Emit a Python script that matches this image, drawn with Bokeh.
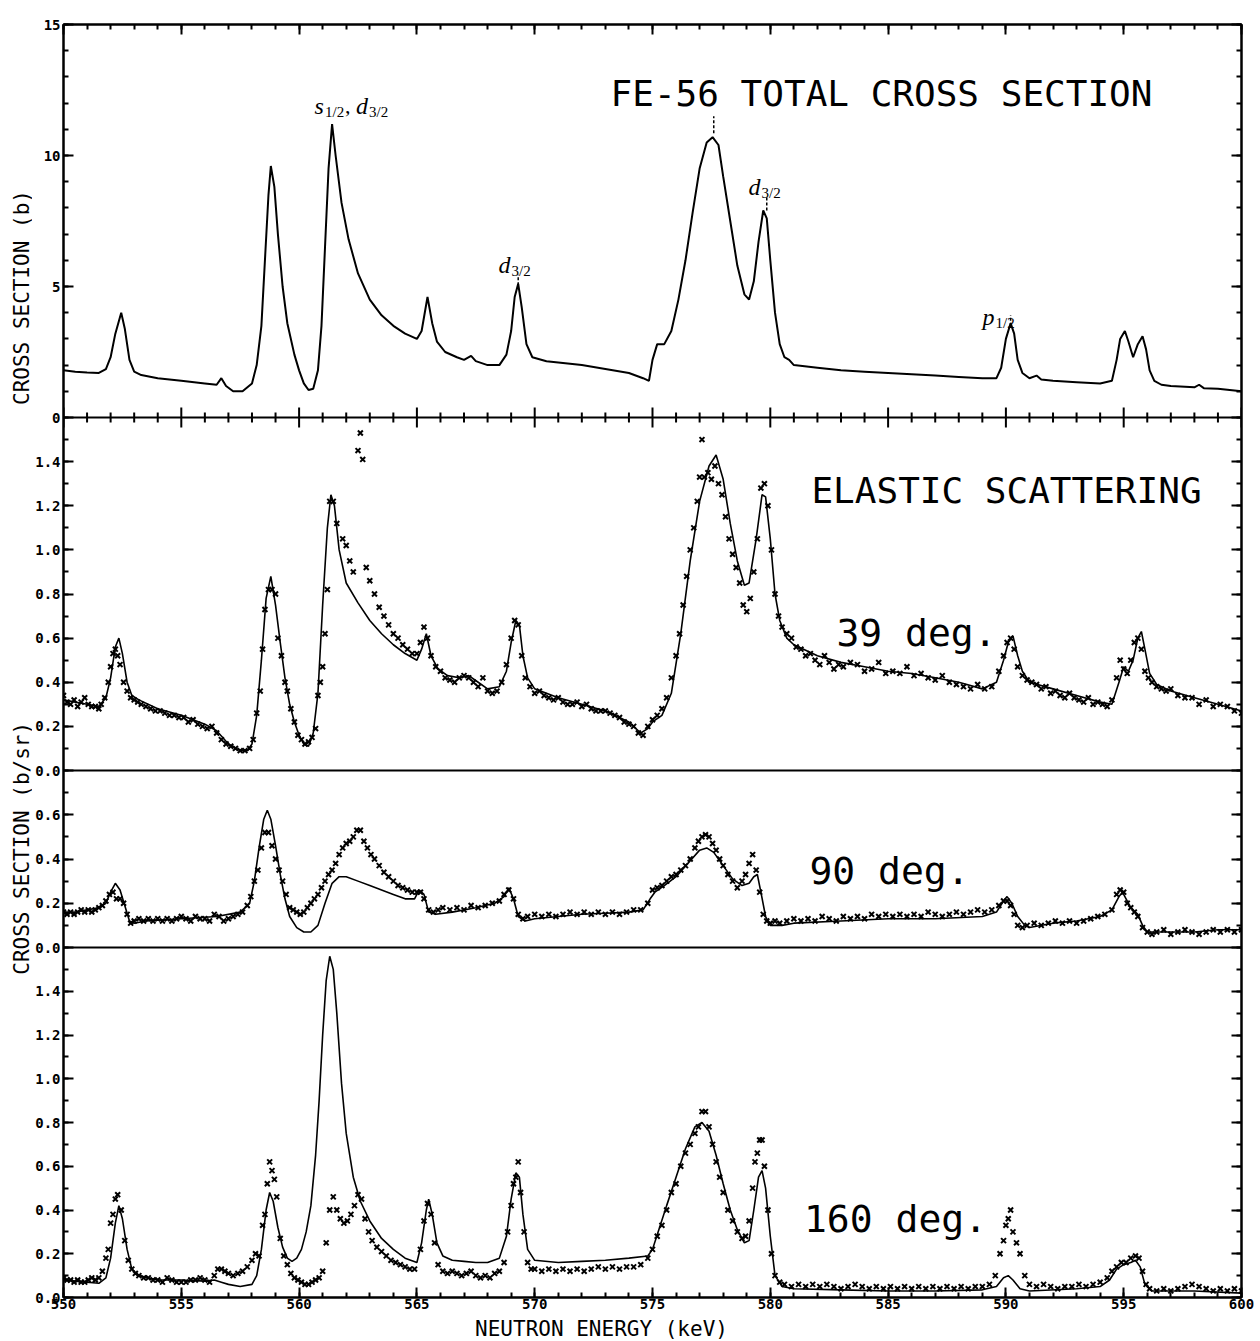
import math
from bokeh.plotting import figure
from bokeh.layouts import column, row
from bokeh.models import (Range1d, LinearAxis, FixedTicker, Label, Span,
                          CustomJSTickFormatter)
from bokeh.core.properties import value
from bokeh.embed import file_html
from bokeh.resources import INLINE

# ---------------- DATA ----------------
# Panel 1: Fe-56 total cross section (b)
tot_E = [550.0, 550.5, 551.0, 551.5, 551.8, 552.0, 552.2, 552.45, 552.6, 552.8, 553.0, 553.3, 554.0, 555.0,
         556.0, 556.5, 556.7, 556.9, 557.2, 557.6, 558.0, 558.2, 558.4, 558.55, 558.7, 558.8, 558.95, 559.1,
         559.3, 559.5, 559.8, 560.0, 560.2, 560.4, 560.6, 560.8, 560.95, 561.1, 561.25, 561.4, 561.55, 561.8,
         562.1, 562.5, 563.0, 563.5, 564.0, 564.5, 565.0, 565.2, 565.45, 565.65, 565.85, 566.2, 566.7, 567.0,
         567.3, 567.5, 568.0, 568.5, 568.8, 569.0, 569.15, 569.3, 569.45, 569.65, 569.9, 570.5, 571.0, 572.0,
         573.0, 574.0, 574.6, 574.85, 575.0, 575.2, 575.5, 575.8, 576.1, 576.4, 576.7, 577.0, 577.3, 577.55,
         577.8, 578.0, 578.3, 578.6, 578.9, 579.1, 579.3, 579.5, 579.7, 579.85, 580.0, 580.2, 580.4, 580.6,
         580.8, 581.0, 582.0, 583.0, 584.0, 585.0, 586.0, 587.0, 588.0, 589.0, 589.6, 589.8, 590.0, 590.2,
         590.35, 590.5, 590.7, 591.0, 591.3, 591.5, 592.0, 593.0, 594.0, 594.5, 594.7, 594.85, 595.05, 595.2,
         595.4, 595.6, 595.8, 595.95, 596.1, 596.3, 596.6, 597.0, 598.0, 598.2, 598.4, 599.0, 600.0]
tot_sig = [1.80, 1.75, 1.72, 1.70, 1.85, 2.3, 3.2, 4.0, 3.4, 2.2, 1.75, 1.62, 1.50, 1.40,
           1.30, 1.25, 1.50, 1.20, 1.00, 1.00, 1.30, 2.0, 3.5, 6.0, 8.5, 9.6, 8.8, 7.0,
           5.0, 3.6, 2.4, 1.8, 1.3, 1.05, 1.1, 1.8, 3.5, 6.5, 9.5, 11.2, 10.0, 8.2,
           6.8, 5.5, 4.5, 3.9, 3.5, 3.2, 3.0, 3.3, 4.6, 3.6, 2.9, 2.5, 2.3, 2.2,
           2.35, 2.15, 2.0, 2.0, 2.4, 3.3, 4.6, 5.1, 4.2, 2.8, 2.3, 2.15, 2.1, 2.0,
           1.85, 1.7, 1.5, 1.4, 2.2, 2.8, 2.8, 3.3, 4.5, 6.0, 7.8, 9.5, 10.5, 10.7,
           10.4, 9.2, 7.5, 5.8, 4.7, 4.5, 5.2, 6.7, 7.9, 7.6, 6.0, 4.0, 2.8, 2.3,
           2.2, 2.0, 1.9, 1.8, 1.75, 1.7, 1.65, 1.6, 1.55, 1.5, 1.5, 1.9, 3.0, 3.6,
           3.2, 2.2, 1.7, 1.5, 1.6, 1.45, 1.4, 1.35, 1.3, 1.4, 2.2, 3.0, 3.3, 2.9,
           2.3, 2.8, 3.1, 2.6, 1.8, 1.4, 1.25, 1.2, 1.15, 1.25, 1.12, 1.1, 1.0]

# Panel 2: elastic 39 deg (b/sr) - fit curve
fit39_E = [550.0, 550.5, 551.0, 551.5, 551.8, 552.0, 552.2, 552.35, 552.5, 552.7, 552.9, 553.2, 554.0, 555.0,
           556.0, 556.5, 557.0, 557.5, 557.8, 558.0, 558.2, 558.4, 558.6, 558.8, 559.0, 559.2, 559.4, 559.6,
           559.8, 560.0, 560.2, 560.4, 560.6, 560.8, 561.0, 561.2, 561.35, 561.5, 561.7, 562.0, 562.5, 563.0,
           563.5, 564.0, 564.5, 565.0, 565.2, 565.4, 565.6, 565.9, 566.3, 566.8, 567.2, 567.6, 568.0, 568.5,
           568.8, 569.0, 569.2, 569.35, 569.5, 569.7, 570.0, 571.0, 572.0, 573.0, 574.0, 574.5, 574.8, 575.0,
           575.4, 575.8, 576.2, 576.6, 577.0, 577.4, 577.7, 578.0, 578.3, 578.6, 578.9, 579.1, 579.4, 579.65,
           579.8, 580.0, 580.2, 580.4, 580.7, 581.0, 582.0, 583.0, 584.0, 585.0, 586.0, 587.0, 588.0, 589.0,
           589.6, 589.9, 590.1, 590.3, 590.5, 590.7, 591.0, 592.0, 593.0, 594.0, 594.5, 594.8, 595.0, 595.2,
           595.4, 595.6, 595.75, 595.9, 596.1, 596.4, 597.0, 598.0, 599.0, 600.0]
fit39 = [0.32, 0.31, 0.30, 0.29, 0.33, 0.42, 0.56, 0.60, 0.53, 0.40, 0.34, 0.32, 0.28, 0.25,
         0.21, 0.18, 0.12, 0.09, 0.09, 0.12, 0.25, 0.50, 0.78, 0.88, 0.75, 0.58, 0.42, 0.30,
         0.22, 0.16, 0.12, 0.11, 0.17, 0.35, 0.75, 1.10, 1.25, 1.20, 1.00, 0.85, 0.76, 0.68,
         0.62, 0.57, 0.53, 0.50, 0.55, 0.62, 0.52, 0.46, 0.43, 0.42, 0.43, 0.40, 0.37, 0.38,
         0.45, 0.58, 0.68, 0.66, 0.52, 0.42, 0.37, 0.33, 0.30, 0.27, 0.22, 0.17, 0.19, 0.22,
         0.25, 0.35, 0.62, 0.95, 1.22, 1.38, 1.43, 1.32, 1.12, 0.95, 0.84, 0.85, 1.05, 1.25,
         1.24, 1.05, 0.80, 0.68, 0.60, 0.57, 0.52, 0.49, 0.47, 0.45, 0.44, 0.42, 0.40, 0.37,
         0.40, 0.50, 0.58, 0.61, 0.52, 0.45, 0.40, 0.37, 0.34, 0.31, 0.30, 0.40, 0.47, 0.45,
         0.50, 0.60, 0.63, 0.55, 0.44, 0.39, 0.36, 0.33, 0.30, 0.27]

# Panel 2: elastic 39 deg - measured points
d39_E = [550.0, 550.15, 550.3, 550.45, 550.6, 550.75, 550.9, 551.05, 551.2, 551.35, 551.5, 551.6, 551.75, 551.9,
         552.0, 552.1, 552.2, 552.3, 552.4, 552.55, 552.7, 552.85, 553.0, 553.15, 553.3, 553.5, 553.7, 553.9,
         554.1, 554.3, 554.5, 554.7, 554.9, 555.1, 555.3, 555.5, 555.7, 555.9, 556.1, 556.3, 556.5, 556.7,
         556.9, 557.1, 557.3, 557.5, 557.7, 557.9, 558.05, 558.2, 558.35, 558.45, 558.55, 558.7, 558.85, 559.0,
         559.1, 559.25, 559.4, 559.5, 559.65, 559.8, 559.95, 560.1, 560.25, 560.4, 560.55, 560.7, 560.8, 560.9,
         561.0, 561.1, 561.2, 561.3, 561.45, 561.6, 561.85, 562.0, 562.15, 562.3, 562.5, 562.6, 562.7, 562.85,
         563.0, 563.2, 563.4, 563.6, 563.8, 564.0, 564.2, 564.4, 564.6, 564.8, 565.0, 565.15, 565.3, 565.45,
         565.6, 565.8, 566.0, 566.2, 566.4, 566.6, 566.8, 567.0, 567.2, 567.4, 567.6, 567.8, 568.0, 568.2,
         568.4, 568.6, 568.8, 569.0, 569.15, 569.3, 569.45, 569.6, 569.8, 570.0, 570.2, 570.4, 570.6, 570.8,
         571.0, 571.2, 571.4, 571.6, 571.8, 572.0, 572.2, 572.4, 572.6, 572.8, 573.0, 573.2, 573.4, 573.6,
         573.8, 574.0, 574.2, 574.4, 574.6, 574.8, 575.0, 575.2, 575.4, 575.6, 575.8, 576.0, 576.15, 576.3,
         576.45, 576.6, 576.75, 576.9, 577.0, 577.1, 577.2, 577.35, 577.5, 577.65, 577.8, 577.95, 578.1, 578.25,
         578.4, 578.55, 578.7, 578.85, 579.0, 579.15, 579.3, 579.45, 579.6, 579.75, 579.9, 580.05, 580.2, 580.35,
         580.5, 580.7, 580.9, 581.1, 581.3, 581.5, 581.7, 581.9, 582.1, 582.3, 582.5, 582.7, 582.9, 583.1,
         583.4, 583.7, 584.0, 584.3, 584.6, 584.9, 585.2, 585.5, 585.8, 586.1, 586.4, 586.7, 587.0, 587.3,
         587.6, 587.9, 588.2, 588.5, 588.8, 589.1, 589.4, 589.7, 589.9, 590.05, 590.2, 590.35, 590.5, 590.7,
         590.9, 591.1, 591.3, 591.5, 591.7, 591.9, 592.1, 592.3, 592.5, 592.7, 592.9, 593.1, 593.3, 593.5,
         593.7, 593.9, 594.1, 594.3, 594.5, 594.7, 594.85, 595.0, 595.15, 595.3, 595.45, 595.6, 595.75, 595.9,
         596.05, 596.2, 596.4, 596.6, 596.8, 597.0, 597.3, 597.6, 597.9, 598.2, 598.5, 598.8, 599.1, 599.4,
         599.7, 600.0]
d39 = [0.34, 0.31, 0.30, 0.32, 0.29, 0.31, 0.33, 0.30, 0.29, 0.29, 0.28, 0.30, 0.33, 0.40,
       0.47, 0.53, 0.55, 0.52, 0.48, 0.40, 0.36, 0.33, 0.32, 0.31, 0.30, 0.29, 0.28, 0.27,
       0.27, 0.26, 0.25, 0.25, 0.24, 0.24, 0.22, 0.23, 0.21, 0.20, 0.19, 0.20, 0.17, 0.14,
       0.12, 0.11, 0.10, 0.09, 0.09, 0.10, 0.14, 0.26, 0.36, 0.55, 0.73, 0.82, 0.82, 0.80,
       0.60, 0.52, 0.40, 0.36, 0.28, 0.22, 0.16, 0.14, 0.12, 0.13, 0.15, 0.19, 0.34, 0.40,
       0.47, 0.62, 0.82, 1.22, 1.22, 1.12, 1.05, 1.02, 0.95, 0.90, 1.45, 1.53, 1.41, 0.92,
       0.86, 0.80, 0.74, 0.70, 0.66, 0.62, 0.60, 0.57, 0.55, 0.53, 0.53, 0.58, 0.65, 0.60,
       0.52, 0.47, 0.45, 0.42, 0.41, 0.40, 0.42, 0.43, 0.42, 0.40, 0.38, 0.42, 0.36, 0.35,
       0.36, 0.40, 0.48, 0.60, 0.68, 0.66, 0.52, 0.42, 0.38, 0.35, 0.36, 0.34, 0.33, 0.32,
       0.33, 0.31, 0.30, 0.30, 0.31, 0.29, 0.30, 0.28, 0.27, 0.27, 0.27, 0.26, 0.25, 0.24,
       0.22, 0.21, 0.20, 0.17, 0.16, 0.20, 0.23, 0.25, 0.28, 0.33, 0.42, 0.52, 0.62, 0.75,
       0.88, 1.00, 1.10, 1.22, 1.33, 1.50, 1.33, 1.35, 1.32, 1.38, 1.30, 1.25, 1.15, 1.05,
       0.98, 0.92, 0.85, 0.75, 0.72, 0.78, 0.90, 1.05, 1.28, 1.30, 1.20, 1.00, 0.80, 0.70,
       0.65, 0.62, 0.60, 0.56, 0.55, 0.52, 0.53, 0.50, 0.48, 0.52, 0.49, 0.46, 0.48, 0.47,
       0.49, 0.48, 0.45, 0.46, 0.49, 0.44, 0.45, 0.44, 0.47, 0.43, 0.44, 0.42, 0.41, 0.43,
       0.40, 0.39, 0.38, 0.37, 0.39, 0.37, 0.38, 0.45, 0.52, 0.58, 0.60, 0.55, 0.47, 0.43,
       0.41, 0.40, 0.39, 0.37, 0.38, 0.35, 0.36, 0.34, 0.33, 0.35, 0.33, 0.32, 0.31, 0.33,
       0.30, 0.31, 0.30, 0.29, 0.32, 0.42, 0.50, 0.46, 0.44, 0.50, 0.58, 0.60, 0.55, 0.45,
       0.42, 0.40, 0.38, 0.37, 0.36, 0.37, 0.34, 0.33, 0.33, 0.30, 0.32, 0.29, 0.30, 0.29,
       0.27, 0.26]

# Panel 3: elastic 90 deg - fit curve
fit90_E = [550.0, 550.5, 551.0, 551.5, 551.8, 552.0, 552.2, 552.4, 552.6, 552.8, 553.0, 553.5, 555.0, 556.5,
           557.5, 557.9, 558.1, 558.3, 558.5, 558.65, 558.8, 559.0, 559.2, 559.4, 559.6, 559.9, 560.2, 560.5,
           560.8, 561.1, 561.4, 561.7, 562.0, 562.5, 563.0, 563.5, 564.0, 564.5, 564.9, 565.1, 565.3, 565.5,
           565.8, 566.5, 567.5, 568.3, 568.7, 568.9, 569.1, 569.3, 569.6, 570.0, 571.0, 572.0, 573.0, 574.0,
           574.6, 574.9, 575.1, 575.5, 576.0, 576.5, 577.0, 577.3, 577.6, 578.0, 578.4, 578.8, 579.1, 579.3,
           579.45, 579.6, 579.8, 580.0, 580.5, 581.0, 583.0, 585.0, 587.0, 589.0, 589.6, 589.9, 590.05, 590.25,
           590.5, 590.8, 591.0, 592.0, 593.0, 594.0, 594.5, 594.8, 594.95, 595.1, 595.3, 595.6, 595.8, 596.0,
           597.0, 598.0, 599.0, 600.0]
fit90 = [0.16, 0.16, 0.17, 0.18, 0.20, 0.25, 0.29, 0.26, 0.19, 0.12, 0.11, 0.12, 0.13, 0.14,
         0.16, 0.20, 0.30, 0.45, 0.58, 0.62, 0.58, 0.46, 0.33, 0.22, 0.14, 0.09, 0.07, 0.07,
         0.10, 0.20, 0.29, 0.32, 0.32, 0.30, 0.28, 0.26, 0.24, 0.22, 0.22, 0.26, 0.24, 0.16,
         0.15, 0.16, 0.18, 0.20, 0.23, 0.27, 0.22, 0.14, 0.12, 0.13, 0.14, 0.15, 0.155, 0.16,
         0.17, 0.22, 0.25, 0.28, 0.32, 0.38, 0.44, 0.45, 0.43, 0.37, 0.31, 0.28, 0.29, 0.32,
         0.33, 0.25, 0.14, 0.10, 0.10, 0.11, 0.12, 0.13, 0.13, 0.14, 0.16, 0.21, 0.23, 0.20,
         0.14, 0.10, 0.09, 0.11, 0.12, 0.14, 0.17, 0.23, 0.25, 0.22, 0.18, 0.15, 0.10, 0.07,
         0.07, 0.07, 0.08, 0.08]

# Panel 3: elastic 90 deg - measured points
d90_E = [550.0, 550.15, 550.3, 550.45, 550.6, 550.75, 550.9, 551.05, 551.2, 551.35, 551.5, 551.65, 551.8, 551.95,
         552.1, 552.25, 552.4, 552.55, 552.7, 552.85, 553.0, 553.2, 553.4, 553.6, 553.8, 554.0, 554.2, 554.4,
         554.6, 554.8, 555.0, 555.2, 555.4, 555.6, 555.8, 556.0, 556.2, 556.4, 556.6, 556.8, 557.0, 557.2,
         557.4, 557.6, 557.8, 557.95, 558.1, 558.25, 558.4, 558.55, 558.7, 558.85, 559.0, 559.15, 559.3, 559.45,
         559.6, 559.75, 559.9, 560.05, 560.2, 560.35, 560.5, 560.65, 560.8, 560.95, 561.1, 561.25, 561.4, 561.55,
         561.7, 561.85, 562.0, 562.15, 562.3, 562.45, 562.6, 562.75, 562.9, 563.05, 563.2, 563.4, 563.6, 563.8,
         564.0, 564.2, 564.4, 564.6, 564.8, 565.0, 565.15, 565.3, 565.5, 565.7, 565.9, 566.1, 566.4, 566.7,
         567.0, 567.3, 567.6, 567.9, 568.2, 568.5, 568.7, 568.9, 569.1, 569.3, 569.5, 569.7, 570.0, 570.3,
         570.6, 570.9, 571.2, 571.5, 571.8, 572.1, 572.4, 572.7, 573.0, 573.3, 573.6, 573.9, 574.2, 574.5,
         574.8, 575.0, 575.2, 575.4, 575.6, 575.8, 576.0, 576.2, 576.4, 576.6, 576.8, 576.95, 577.1, 577.25,
         577.4, 577.55, 577.7, 577.85, 578.0, 578.2, 578.4, 578.6, 578.8, 578.95, 579.1, 579.25, 579.4, 579.55,
         579.7, 579.85, 580.0, 580.2, 580.4, 580.7, 581.0, 581.3, 581.6, 581.9, 582.2, 582.5, 582.8, 583.1,
         583.4, 583.7, 584.0, 584.3, 584.6, 584.9, 585.2, 585.5, 585.8, 586.1, 586.4, 586.7, 587.0, 587.3,
         587.6, 587.9, 588.2, 588.5, 588.8, 589.1, 589.4, 589.7, 589.9, 590.05, 590.2, 590.35, 590.5, 590.7,
         590.9, 591.2, 591.5, 591.8, 592.1, 592.4, 592.7, 593.0, 593.3, 593.6, 593.9, 594.2, 594.5, 594.7,
         594.85, 595.0, 595.15, 595.3, 595.45, 595.6, 595.8, 596.0, 596.2, 596.4, 596.7, 597.0, 597.3, 597.6,
         597.9, 598.2, 598.5, 598.8, 599.1, 599.4, 599.7, 600.0]
d90 = [0.16, 0.15, 0.16, 0.15, 0.16, 0.17, 0.16, 0.17, 0.16, 0.17, 0.18, 0.19, 0.21, 0.24,
       0.25, 0.22, 0.22, 0.20, 0.15, 0.11, 0.12, 0.13, 0.12, 0.13, 0.12, 0.13, 0.12, 0.13,
       0.12, 0.13, 0.14, 0.13, 0.12, 0.14, 0.13, 0.13, 0.12, 0.15, 0.14, 0.12, 0.13, 0.14,
       0.15, 0.16, 0.19, 0.23, 0.30, 0.35, 0.45, 0.52, 0.52, 0.46, 0.40, 0.35, 0.30, 0.24,
       0.18, 0.17, 0.16, 0.15, 0.16, 0.18, 0.20, 0.22, 0.24, 0.27, 0.30, 0.33, 0.35, 0.38,
       0.42, 0.45, 0.47, 0.48, 0.50, 0.53, 0.53, 0.48, 0.45, 0.42, 0.40, 0.37, 0.34, 0.32,
       0.30, 0.28, 0.27, 0.26, 0.25, 0.25, 0.25, 0.22, 0.17, 0.16, 0.17, 0.18, 0.17, 0.18,
       0.17, 0.19, 0.18, 0.19, 0.20, 0.21, 0.24, 0.26, 0.22, 0.15, 0.13, 0.14, 0.15, 0.14,
       0.15, 0.14, 0.15, 0.16, 0.15, 0.16, 0.15, 0.16, 0.15, 0.16, 0.15, 0.16, 0.17, 0.17,
       0.20, 0.26, 0.27, 0.28, 0.30, 0.32, 0.33, 0.35, 0.37, 0.40, 0.45, 0.48, 0.50, 0.51,
       0.50, 0.47, 0.44, 0.40, 0.37, 0.33, 0.30, 0.27, 0.30, 0.33, 0.38, 0.42, 0.35, 0.25,
       0.15, 0.12, 0.11, 0.12, 0.11, 0.12, 0.13, 0.12, 0.13, 0.12, 0.14, 0.13, 0.12, 0.14,
       0.13, 0.14, 0.13, 0.15, 0.14, 0.15, 0.14, 0.15, 0.14, 0.15, 0.14, 0.16, 0.15, 0.14,
       0.15, 0.16, 0.15, 0.16, 0.17, 0.16, 0.17, 0.19, 0.21, 0.21, 0.19, 0.15, 0.10, 0.09,
       0.10, 0.11, 0.10, 0.11, 0.12, 0.11, 0.12, 0.11, 0.12, 0.13, 0.14, 0.15, 0.17, 0.24,
       0.26, 0.25, 0.20, 0.18, 0.16, 0.14, 0.09, 0.07, 0.06, 0.07, 0.08, 0.06, 0.07, 0.08,
       0.07, 0.06, 0.07, 0.08, 0.07, 0.08, 0.07, 0.08]

# Panel 4: elastic 160 deg - fit curve
fit160_E = [550.0, 550.5, 551.0, 551.5, 551.8, 552.0, 552.2, 552.35, 552.5, 552.7, 552.9, 553.2, 554.0, 555.0,
            556.0, 556.4, 556.7, 557.0, 557.5, 558.0, 558.2, 558.4, 558.6, 558.75, 558.9, 559.1, 559.3, 559.5,
            559.7, 559.9, 560.1, 560.3, 560.5, 560.7, 560.85, 561.0, 561.15, 561.3, 561.45, 561.6, 561.8, 562.0,
            562.3, 562.6, 563.0, 563.5, 564.0, 564.5, 565.0, 565.2, 565.4, 565.5, 565.65, 565.85, 566.1, 566.5,
            567.0, 567.5, 568.0, 568.5, 568.8, 569.0, 569.2, 569.35, 569.5, 569.7, 570.0, 571.0, 572.0, 573.0,
            574.0, 574.8, 575.0, 575.3, 575.6, 576.0, 576.4, 576.8, 577.1, 577.4, 577.7, 578.0, 578.3, 578.6,
            578.9, 579.1, 579.3, 579.5, 579.65, 579.8, 580.0, 580.2, 580.5, 581.0, 583.0, 585.0, 587.0, 589.0,
            589.6, 589.9, 590.1, 590.3, 590.6, 591.0, 593.0, 594.0, 594.4, 594.7, 595.0, 595.3, 595.5, 595.7,
            595.9, 596.2, 598.0, 600.0]
fit160 = [0.08, 0.075, 0.07, 0.065, 0.09, 0.18, 0.34, 0.42, 0.36, 0.22, 0.13, 0.10, 0.08, 0.08,
          0.075, 0.08, 0.07, 0.06, 0.05, 0.06, 0.10, 0.22, 0.40, 0.48, 0.44, 0.32, 0.23, 0.18,
          0.165, 0.18, 0.22, 0.30, 0.42, 0.65, 0.90, 1.20, 1.45, 1.56, 1.50, 1.30, 0.98, 0.75,
          0.55, 0.44, 0.35, 0.27, 0.22, 0.18, 0.16, 0.25, 0.40, 0.45, 0.38, 0.25, 0.19, 0.17,
          0.165, 0.16, 0.16, 0.18, 0.28, 0.45, 0.57, 0.55, 0.38, 0.22, 0.17, 0.16, 0.165, 0.17,
          0.18, 0.19, 0.22, 0.32, 0.42, 0.55, 0.68, 0.78, 0.80, 0.76, 0.65, 0.52, 0.40, 0.31,
          0.25, 0.26, 0.40, 0.55, 0.58, 0.50, 0.28, 0.10, 0.05, 0.04, 0.035, 0.03, 0.03, 0.035,
          0.05, 0.09, 0.10, 0.08, 0.04, 0.03, 0.04, 0.05, 0.08, 0.13, 0.15, 0.16, 0.17, 0.14,
          0.06, 0.03, 0.03, 0.02]

# Panel 4: elastic 160 deg - measured points
d160_E = [550.0, 550.15, 550.3, 550.45, 550.6, 550.75, 550.9, 551.05, 551.2, 551.35, 551.5, 551.65, 551.8, 551.9,
          552.0, 552.1, 552.2, 552.3, 552.45, 552.6, 552.75, 552.9, 553.05, 553.2, 553.4, 553.6, 553.8, 554.0,
          554.2, 554.4, 554.6, 554.8, 555.0, 555.2, 555.4, 555.6, 555.8, 556.0, 556.2, 556.4, 556.55, 556.7,
          556.85, 557.0, 557.2, 557.4, 557.6, 557.8, 558.0, 558.15, 558.3, 558.45, 558.55, 558.65, 558.75, 558.85,
          558.95, 559.05, 559.2, 559.35, 559.5, 559.65, 559.8, 559.95, 560.1, 560.25, 560.4, 560.55, 560.7, 560.85,
          561.0, 561.15, 561.3, 561.45, 561.6, 561.75, 561.9, 562.05, 562.2, 562.35, 562.5, 562.65, 562.8, 562.95,
          563.1, 563.3, 563.5, 563.7, 563.9, 564.1, 564.3, 564.5, 564.7, 564.9, 565.15, 565.3, 565.45, 565.6,
          565.75, 565.9, 566.1, 566.3, 566.5, 566.7, 566.9, 567.1, 567.3, 567.5, 567.7, 567.9, 568.1, 568.3,
          568.5, 568.7, 568.85, 569.0, 569.1, 569.2, 569.3, 569.4, 569.55, 569.7, 569.85, 570.0, 570.3, 570.6,
          570.9, 571.2, 571.5, 571.8, 572.1, 572.4, 572.7, 573.0, 573.3, 573.6, 573.9, 574.2, 574.5, 574.8,
          575.0, 575.2, 575.4, 575.6, 575.8, 576.0, 576.2, 576.4, 576.6, 576.8, 576.95, 577.1, 577.25, 577.4,
          577.55, 577.7, 577.85, 578.0, 578.2, 578.4, 578.6, 578.8, 578.95, 579.1, 579.25, 579.35, 579.45, 579.55,
          579.65, 579.75, 579.9, 580.05, 580.2, 580.4, 580.6, 580.9, 581.2, 581.5, 581.8, 582.1, 582.4, 582.7,
          583.0, 583.3, 583.6, 583.9, 584.2, 584.5, 584.8, 585.1, 585.4, 585.7, 586.0, 586.3, 586.6, 586.9,
          587.2, 587.5, 587.8, 588.1, 588.4, 588.7, 589.0, 589.3, 589.55, 589.75, 589.9, 590.0, 590.1, 590.2,
          590.3, 590.45, 590.6, 590.8, 591.0, 591.3, 591.6, 591.9, 592.2, 592.5, 592.8, 593.1, 593.4, 593.7,
          594.0, 594.3, 594.5, 594.7, 594.9, 595.1, 595.3, 595.5, 595.65, 595.8, 595.95, 596.1, 596.4, 596.7,
          597.0, 597.3, 597.6, 597.9, 598.2, 598.5, 598.8, 599.1, 599.4, 599.7, 600.0]
d160 = [0.09, 0.08, 0.08, 0.07, 0.08, 0.07, 0.07, 0.08, 0.09, 0.08, 0.09, 0.12, 0.18, 0.22,
        0.34, 0.38, 0.45, 0.47, 0.40, 0.26, 0.17, 0.13, 0.11, 0.10, 0.09, 0.09, 0.08, 0.08,
        0.07, 0.09, 0.08, 0.07, 0.07, 0.07, 0.08, 0.08, 0.09, 0.08, 0.07, 0.10, 0.13, 0.13,
        0.12, 0.11, 0.10, 0.11, 0.12, 0.14, 0.17, 0.20, 0.19, 0.33, 0.38, 0.52, 0.62, 0.58,
        0.54, 0.46, 0.27, 0.19, 0.15, 0.11, 0.09, 0.08, 0.07, 0.06, 0.06, 0.07, 0.08, 0.09,
        0.12, 0.25, 0.40, 0.46, 0.40, 0.36, 0.34, 0.35, 0.38, 0.42, 0.47, 0.45, 0.36, 0.30,
        0.26, 0.23, 0.21, 0.19, 0.17, 0.16, 0.15, 0.14, 0.13, 0.13, 0.22, 0.35, 0.43, 0.38,
        0.25, 0.15, 0.12, 0.11, 0.12, 0.11, 0.10, 0.11, 0.12, 0.10, 0.09, 0.10, 0.09, 0.11,
        0.12, 0.16, 0.30, 0.42, 0.52, 0.55, 0.62, 0.48, 0.30, 0.16, 0.13, 0.13, 0.12, 0.13,
        0.12, 0.13, 0.12, 0.13, 0.12, 0.13, 0.14, 0.13, 0.14, 0.13, 0.14, 0.14, 0.15, 0.18,
        0.22, 0.28, 0.33, 0.40, 0.48, 0.52, 0.60, 0.66, 0.70, 0.75, 0.78, 0.85, 0.85, 0.78,
        0.70, 0.62, 0.55, 0.48, 0.40, 0.35, 0.30, 0.27, 0.28, 0.35, 0.50, 0.62, 0.66, 0.72,
        0.72, 0.60, 0.40, 0.20, 0.10, 0.07, 0.06, 0.05, 0.06, 0.05, 0.06, 0.05, 0.06, 0.05,
        0.04, 0.05, 0.06, 0.05, 0.04, 0.05, 0.04, 0.05, 0.04, 0.05, 0.04, 0.05, 0.04, 0.05,
        0.04, 0.05, 0.04, 0.05, 0.04, 0.05, 0.05, 0.06, 0.10, 0.20, 0.26, 0.33, 0.36, 0.40,
        0.30, 0.25, 0.20, 0.10, 0.06, 0.05, 0.06, 0.05, 0.04, 0.05, 0.05, 0.06, 0.05, 0.06,
        0.07, 0.09, 0.12, 0.14, 0.16, 0.16, 0.18, 0.19, 0.18, 0.12, 0.06, 0.04, 0.03, 0.04,
        0.03, 0.04, 0.05, 0.06, 0.05, 0.04, 0.03, 0.04, 0.03, 0.04, 0.03]

# resonance labels on the total cross section: (letter, subscript) pieces
res_parts = [[("s", "m"), ("1/2", "s"), (", ", "u"), ("d", "m"), ("3/2", "s")],
             [("d", "m"), ("3/2", "s")],
             [("d", "m"), ("3/2", "s")],
             [("p", "m"), ("1/2", "s")]]
# dashed peak marks (energy, from, to in barns)
mark_E = [569.3, 577.6, 579.85, 590.2]
mark_lo = [5.05, 10.85, 7.9, 3.5]
mark_hi = [5.45, 11.5, 8.45, 3.9]

x_ticks_major = [550, 555, 560, 565, 570, 575, 580, 585, 590, 595, 600]
y1_labels = [0, 5, 10, 15]
y_el_labels = [0.0, 0.2, 0.4, 0.6, 0.8, 1.0, 1.2, 1.4]

# ---------------- LAYOUT ----------------
WIN_W, WIN_H = 1260, 1341
STRIP_W = 32          # left strip holding the y titles
BOT_H = 26            # bottom strip holding the x title
FX0, FX1 = 63, 1241   # frame x (page px)
FY0, FY1 = 24, 1297   # frame y (page px)
X0, X1 = 550.0, 600.0
PANEL = {1: (24, 417, 15.0), 2: (417, 770, 1.6), 3: (770, 947, 0.8), 4: (947, 1297, 1.6)}
MONO = "DejaVu Sans Mono"
FRAME_H = FY1 - FY0


def ex(px):
    return X0 + (px - FX0) * (X1 - X0) / (FX1 - FX0)


def vy(k, py):
    top, bot, ymax = PANEL[k]
    return (bot - py) / (bot - top) * ymax


def pos(k, v):
    """position of panel-k value v on the frame's base (pixel) range"""
    top, bot, ymax = PANEL[k]
    return round(FY1 - bot + v * (bot - top) / ymax, 3)


def frange(a, b, s):
    out, v = [], a
    while v <= b + 1e-9:
        out.append(round(v, 4))
        v += s
    return out


main_h = WIN_H - BOT_H
main_w = WIN_W - STRIP_W
main = figure(width=main_w, height=main_h, x_range=Range1d(X0, X1), y_range=Range1d(0, FRAME_H),
              output_backend="svg", toolbar_location=None,
              x_axis_location=None, y_axis_location=None,
              min_border_left=FX0 - STRIP_W, min_border_right=WIN_W - FX1,
              min_border_top=FY0, min_border_bottom=main_h - FY1)
main.xgrid.visible = False
main.ygrid.visible = False
main.outline_line_color = "black"
main.outline_line_width = 2
main.background_fill_color = "white"
main.border_fill_color = "white"

ranges = {}
for k, (top, bot, ymax) in PANEL.items():
    h = bot - top
    ranges[f"p{k}"] = Range1d((bot - FY1) * ymax / h, (bot - FY0) * ymax / h)
main.extra_y_ranges = ranges

# --- y ticks (left labelled, right unlabelled) ---
maj_pos, maj_lab, min_pos = [], [], []
for v in y1_labels:
    maj_pos.append(pos(1, v))
    maj_lab.append(str(v))
min_pos += [pos(1, v) for v in frange(0, 15, 1)]
for k in (2, 3, 4):
    ymax = PANEL[k][2]
    for v in y_el_labels:
        if v < ymax - 1e-6:
            maj_pos.append(pos(k, v))
            maj_lab.append(f"{v:.1f}")
    min_pos += [pos(k, v) for v in frange(0, ymax, 0.1)]

lab_fmt = CustomJSTickFormatter(args=dict(P=maj_pos, L=maj_lab), code="""
    for (let i = 0; i < P.length; i++) { if (Math.abs(P[i] - tick) < 0.01) return L[i]; }
    return '';
""")
blank = CustomJSTickFormatter(code="return '';")

x_minor = frange(550, 600, 1)


def style_axis(ax, labelled, size="14px", standoff=3):
    ax.major_tick_in = 10
    ax.major_tick_out = 0
    ax.minor_tick_in = 5
    ax.minor_tick_out = 0
    ax.axis_line_width = 2
    ax.major_tick_line_width = 2
    ax.minor_tick_line_width = 2
    ax.axis_line_color = "black"
    if labelled:
        ax.major_label_text_font = MONO
        ax.major_label_text_font_style = "bold"
        ax.major_label_text_font_size = size
        ax.major_label_text_color = "black"
        ax.major_label_standoff = standoff
    else:
        ax.formatter = blank
        ax.major_label_text_font_size = "0px"
        ax.major_label_standoff = 0


yl = LinearAxis(ticker=FixedTicker(ticks=maj_pos, minor_ticks=min_pos), formatter=lab_fmt)
style_axis(yl, True)
main.add_layout(yl, "left")
yr = LinearAxis(ticker=FixedTicker(ticks=maj_pos, minor_ticks=min_pos))
style_axis(yr, False)
main.add_layout(yr, "right")
xt = LinearAxis(ticker=FixedTicker(ticks=x_ticks_major, minor_ticks=x_minor))
style_axis(xt, False)
main.add_layout(xt, "above")
xb = LinearAxis(ticker=FixedTicker(ticks=x_ticks_major, minor_ticks=x_minor))
style_axis(xb, True, "14px", 1)
main.add_layout(xb, "below")

# panel separators
for loc in (pos(2, 1.6), pos(3, 0.8), pos(4, 1.6)):
    main.add_layout(Span(location=loc, dimension="width", line_color="black", line_width=2))

# tick marks on the panel-1 / panel-2 boundary (both directions)
b12 = pos(2, 1.6)
tick_len = [10 if e in x_ticks_major else 5 for e in x_minor]
main.segment(x0=x_minor, x1=x_minor, y0=[b12 - t for t in tick_len], y1=[b12 + t for t in tick_len],
             line_color="black", line_width=2)

# --- data ---
main.line(tot_E, tot_sig, line_color="black", line_width=2, y_range_name="p1")
main.segment(x0=mark_E, y0=mark_lo, x1=mark_E, y1=mark_hi, line_color="black",
             line_width=1.5, line_dash="3 2", y_range_name="p1")
main.line(fit39_E, fit39, line_color="black", line_width=1.6, y_range_name="p2")
main.scatter(d39_E, d39, marker="x", size=7, line_width=2, line_color="black", y_range_name="p2")
main.line(fit90_E, fit90, line_color="black", line_width=1.6, y_range_name="p3")
main.scatter(d90_E, d90, marker="x", size=7, line_width=2, line_color="black", y_range_name="p3")
main.line(fit160_E, fit160, line_color="black", line_width=1.6, y_range_name="p4")
main.scatter(d160_E, d160, marker="x", size=7, line_width=2, line_color="black", y_range_name="p4")


def big_label(k, pxx, pyy, text, size="36px"):
    main.add_layout(Label(x=ex(pxx), y=vy(k, pyy), y_range_name=f"p{k}", text=text,
                          text_font=MONO, text_font_size=size, text_color="black",
                          text_align="center", text_baseline="middle"))


big_label(1, 881, 93, "FE-56 TOTAL CROSS SECTION")
big_label(2, 1006, 490, "ELASTIC SCATTERING")
big_label(2, 916, 632, "39 deg.", "38px")
big_label(3, 889, 870, "90 deg.", "38px")
big_label(4, 895, 1218, "160 deg.", "38px")

# resonance labels (italic letter + smaller subscript)
res_left_px = [314, 498, 748, 982]
res_base_px = [105, 264, 186, 316]
MAIN_W = {"s": 9.5, "d": 12.0, "p": 12.0}
for parts, lx, by in zip(res_parts, res_left_px, res_base_px):
    off = 0.0
    for txt, kind in parts:
        common = dict(x=ex(lx), y=vy(1, by), y_range_name="p1", text=txt, text_color="black",
                      text_baseline="alphabetic", text_align="left", text_font="Liberation Serif")
        if kind == "m":
            main.add_layout(Label(x_offset=off, text_font_style="italic", text_font_size="24px", **common))
            off += MAIN_W[txt]
        elif kind == "s":
            main.add_layout(Label(x_offset=off + 1, y_offset=-6, text_font_size="15px", **common))
            off += 21.0
        else:
            main.add_layout(Label(x_offset=off, text_font_size="22px", **common))
            off += 11.0

# --- left strip with the two y titles ---
left = figure(width=STRIP_W, height=main_h, x_range=Range1d(0, STRIP_W), y_range=Range1d(0, main_h),
              output_backend="svg", toolbar_location=None, x_axis_location=None, y_axis_location=None,
              min_border=0)
left.xgrid.visible = False
left.ygrid.visible = False
left.outline_line_color = None
left.text(x=[21, 21], y=[main_h - 282, main_h - 851],
          text=["CROSS SECTION (b)", "CROSS SECTION (b/sr)"],
          angle=math.pi / 2, text_align="center", text_baseline="middle",
          text_font=value(MONO), text_font_size="21px", text_color="black")

# --- bottom strip with the x title ---
bottom = figure(width=WIN_W, height=BOT_H, x_range=Range1d(0, WIN_W), y_range=Range1d(0, BOT_H),
                output_backend="svg", toolbar_location=None, x_axis_location=None, y_axis_location=None,
                min_border=0)
bottom.xgrid.visible = False
bottom.ygrid.visible = False
bottom.outline_line_color = None
bottom.text(x=[601], y=[BOT_H / 2], text=["NEUTRON ENERGY (keV)"],
            text_align="center", text_baseline="middle",
            text_font=value(MONO), text_font_size="21px", text_color="black")

layout = column(row(left, main, spacing=0), bottom, spacing=0)
open("out.html", "w").write(file_html(layout, INLINE))
